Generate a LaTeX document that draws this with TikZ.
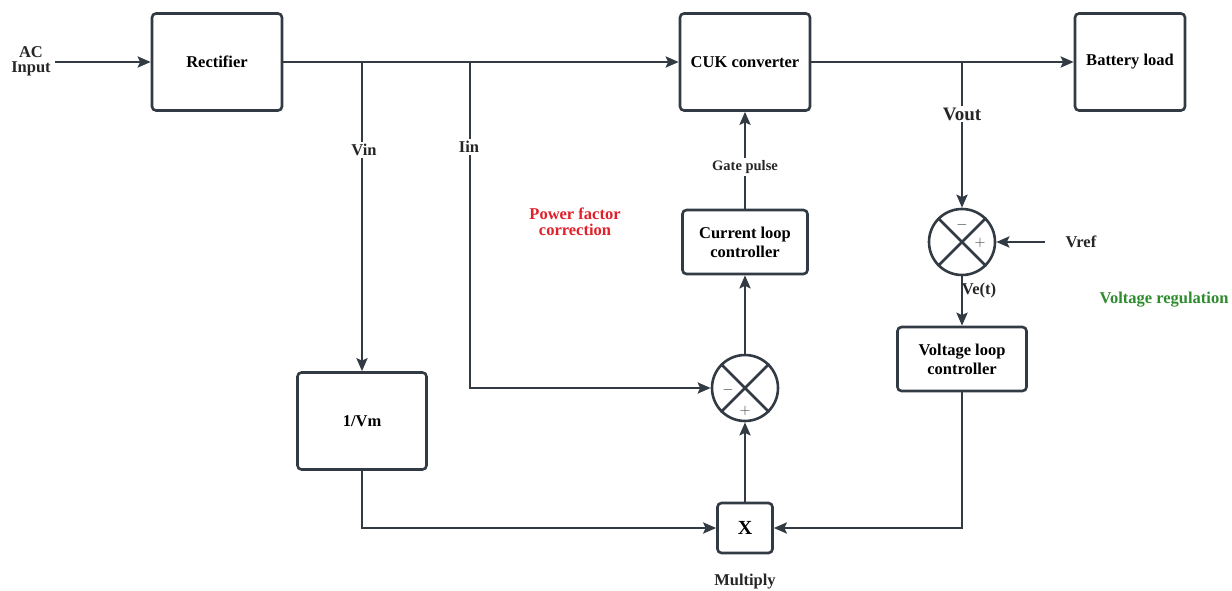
\documentclass[tikz,border=0pt]{standalone}
\usepackage{fontspec}
\setmainfont{Liberation Serif}
\usetikzlibrary{arrows.meta}
\definecolor{ln}{HTML}{323A44}
\definecolor{pfc}{HTML}{E0202A}
\definecolor{vreg}{HTML}{2E8B2E}
\tikzset{
  blk/.style={draw=ln, line width=2.6pt, rounded corners=4pt, fill=white, inner sep=0pt, font=\bfseries\fontsize{16.5}{19}\selectfont, align=center},
  sumj/.style={draw=ln, line width=2.6pt, circle, minimum size=66pt, inner sep=0pt, fill=white},
  wire/.style={draw=ln, line width=2.8pt},
  arr/.style={wire, -{Stealth[length=13pt,width=11pt,inset=2.5pt]}},
  lbl/.style={font=\bfseries\fontsize{16.5}{19}\selectfont, align=center, text=black!85},
  sign/.style={font=\fontsize{15}{15}\selectfont, text=black!80},
}
\begin{document}
\begin{tikzpicture}[x=1pt,y=-1pt]
\useasboundingbox (0,0) rectangle (1232,591);
\fill[white] (0,0) rectangle (1232,591);
% blocks
\node[blk, minimum width=130pt, minimum height=97pt] (rect) at (217,62) {Rectifier};
\node[blk, minimum width=130pt, minimum height=97pt] (cuk) at (745,62) {CUK converter};
\node[blk, minimum width=110pt, minimum height=97pt] (bat) at (1130,62) {Battery load};
\node[blk, minimum width=125pt, minimum height=64pt] (clc) at (745,242) {Current loop\\controller};
\node[blk, minimum width=129pt, minimum height=64pt] (vlc) at (962,359) {Voltage loop\\controller};
\node[blk, minimum width=129pt, minimum height=97pt] (vm) at (362,421) {1/Vm};
\node[blk, minimum width=55pt, minimum height=50pt, font=\bfseries\fontsize{20}{22}\selectfont] (mul) at (745,528) {X};
\node[sumj] (s1) at (745,388) {};
\node[sumj] (s2) at (962,242) {};
\draw[ln, line width=2.6pt] (s1.north west) -- (s1.south east) (s1.north east) -- (s1.south west);
\draw[ln, line width=2.6pt] (s2.north west) -- (s2.south east) (s2.north east) -- (s2.south west);
\node[sign] (s1m) at (728,390) {$-$};
\node[sign] (s1p) at (745,411) {$+$};
\node[sign] (s2m) at (962,225) {$-$};
\node[sign] (s2p) at (980,243) {$+$};
% branch points and free ends
\coordinate (b1) at (362,62);
\coordinate (b2) at (470,62);
\coordinate (b3) at (962,62);
\coordinate (acs) at (55,62);
\coordinate (vrefs) at (1045,242);
% connectors
\draw[arr] (acs) -- (rect.west);
\draw[arr] (rect.east) -- (cuk.west);
\draw[arr] (cuk.east) -- (bat.west);
\draw[arr] (b1) -- (vm.north);
\draw[arr] (b2) |- (s1.west);
\draw[arr] (b3) -- (s2.north);
\draw[arr] (vrefs) -- (s2.east);
\draw[arr] (s2.south) -- (vlc.north);
\draw[arr] (clc.north) -- (cuk.south);
\draw[arr] (s1.north) -- (clc.south);
\draw[arr] (mul.north) -- (s1.south);
\draw[arr] (vm.south) |- (mul.west);
\draw[arr] (vlc.south) |- (mul.east);
% labels
\node[lbl] (ac) at (31,61) {AC\\[-4pt]Input};
\node[lbl, fill=white, inner sep=2pt] (vin) at (364,150) {Vin};
\node[lbl, fill=white, inner sep=2pt] (iin) at (469,147) {Iin};
\node[lbl, fill=white, inner sep=2pt, font=\bfseries\fontsize{19}{21}\selectfont] (vout) at (962,114) {Vout};
\node[lbl, font=\bfseries\fontsize{14.5}{16}\selectfont, fill=white, inner sep=2pt] (gate) at (745,167) {Gate pulse};
\node[lbl] (vref) at (1081,242) {Vref};
\node[lbl] (vet) at (979,291) {Ve(t)};
\node[lbl, text=pfc] (pf) at (575,222) {Power factor\\[-3pt]correction};
\node[lbl, text=vreg] (vr) at (1164,300) {Voltage regulation};
\node[lbl] (mlt) at (745,582) {Multiply};
\end{tikzpicture}
\end{document}
